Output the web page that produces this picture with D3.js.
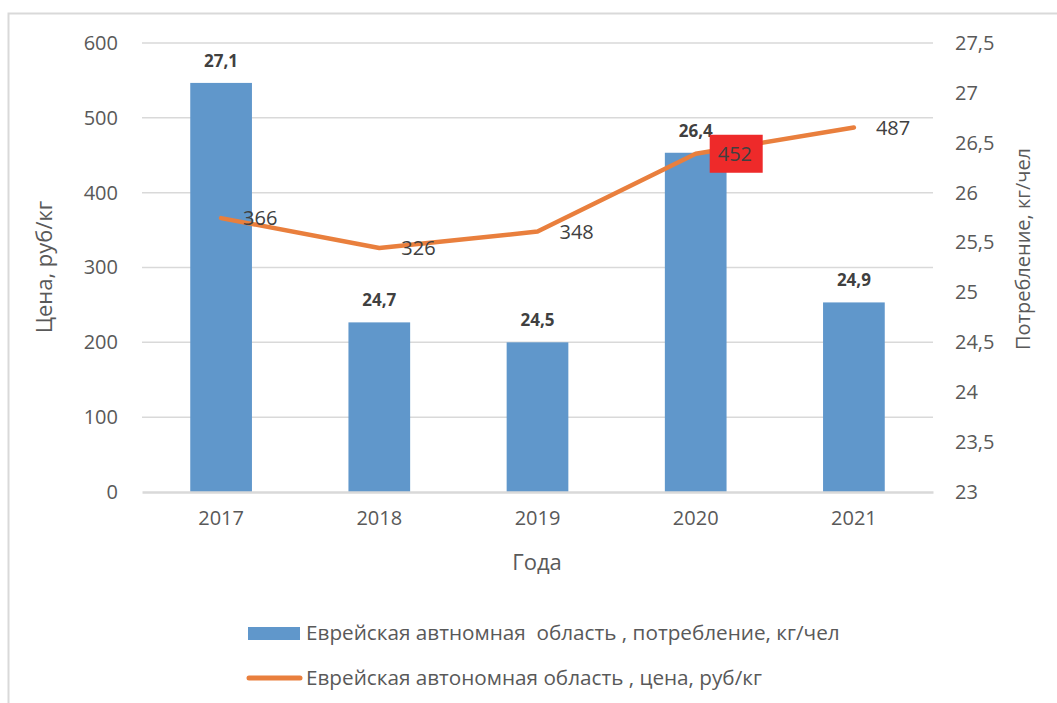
<!DOCTYPE html>
<html>
<head>
<meta charset="utf-8">
<script src="https://cdn.jsdelivr.net/npm/d3@7"></script>
<style>
  body { margin: 0; background: #fff; }
  svg { display: block; }
  svg text { font-family: "Open Sans", "Noto Sans", sans-serif; fill: #595959; }
</style>
</head>
<body>
<svg id="chart"></svg>
<script>
const years = ["2017", "2018", "2019", "2020", "2021"];
const consumption = [27.1, 24.7, 24.5, 26.4, 24.9];
const price = [366, 326, 348, 452, 487];
const priceTicks = [0, 100, 200, 300, 400, 500, 600];
const consTicks = [23, 23.5, 24, 24.5, 25, 25.5, 26, 26.5, 27, 27.5];
const highlightYear = "2020";
const legendNames = ["Еврейская автномная  область , потребление, кг/чел",
                     "Еврейская автономная область , цена, руб/кг"];

const width = 1057;
const height = 703;
const plot = { left: 142, right: 933, top: 43, bottom: 492 };
const barColor = "#6097cb";
const lineColor = "#e97f3d";
const fmt = v => String(v).replace(".", ",");

let svg = d3.select("#chart")
            .attr("width", width)
            .attr("height", height);

//outer frame
svg.append("rect")
   .attr("x", 8.5).attr("y", 13.5)
   .attr("width", width + 10).attr("height", height + 10)
   .attr("fill", "none")
   .attr("stroke", "#d9d9d9")
   .attr("stroke-width", 2);

//scales
let xScale = d3.scaleBand()
               .domain(years)
               .range([plot.left, plot.right])
               .paddingInner(0.61)
               .paddingOuter(0.305);

let yLeft = d3.scaleLinear()
              .domain([0, 600])
              .range([plot.bottom, plot.top]);

let yRight = d3.scaleLinear()
               .domain([23, 27.5])
               .range([plot.bottom, plot.top]);

let cx = d => xScale(d) + xScale.bandwidth() / 2;

//gridlines
svg.append("g")
   .selectAll("line")
   .data(priceTicks.slice(1))
   .enter()
   .append("line")
     .attr("x1", plot.left).attr("x2", plot.right)
     .attr("y1", d => yLeft(d)).attr("y2", d => yLeft(d))
     .attr("stroke", "#d9d9d9")
     .attr("stroke-width", 1.5);

//left axis
let leftAxis = svg.append("g")
   .attr("transform", `translate(${plot.left},0)`)
   .call(d3.axisLeft(yLeft).tickValues(priceTicks).tickSize(0).tickPadding(24));
leftAxis.select(".domain").remove();
leftAxis.attr("font-family", null).attr("font-size", 20);

//right axis
let rightAxis = svg.append("g")
   .attr("transform", `translate(${plot.right},0)`)
   .call(d3.axisRight(yRight).tickValues(consTicks).tickSize(0).tickPadding(22).tickFormat(fmt));
rightAxis.select(".domain").remove();
rightAxis.attr("font-family", null).attr("font-size", 20);

//bars
svg.append("g")
   .selectAll("rect")
   .data(years)
   .enter()
   .append("rect")
     .attr("x", d => xScale(d))
     .attr("y", (d, i) => yRight(consumption[i]))
     .attr("width", xScale.bandwidth())
     .attr("height", (d, i) => plot.bottom - yRight(consumption[i]))
     .attr("fill", barColor);

//x axis
let bottomAxis = svg.append("g")
   .attr("transform", `translate(0,${plot.bottom})`)
   .call(d3.axisBottom(xScale).tickSize(0).tickPadding(19));
bottomAxis.select(".domain").attr("stroke", "#d9d9d9").attr("stroke-width", 2.5);
bottomAxis.attr("font-family", null).attr("font-size", 20);

//bar labels
svg.append("g")
   .selectAll("text")
   .data(years)
   .enter()
   .append("text")
     .attr("x", d => cx(d))
     .attr("y", (d, i) => yRight(consumption[i]) - 16)
     .attr("text-anchor", "middle")
     .attr("font-size", 17)
     .attr("font-weight", "bold")
     .style("fill", "#404040")
     .text((d, i) => fmt(consumption[i]));

//price line
let line = d3.line()
             .x((d, i) => cx(years[i]))
             .y(d => yLeft(d));

svg.append("path")
   .datum(price)
   .attr("d", line)
   .attr("fill", "none")
   .attr("stroke", lineColor)
   .attr("stroke-width", 4.5)
   .attr("stroke-linecap", "round")
   .attr("stroke-linejoin", "round");

//line labels
let lbl = svg.append("g")
             .selectAll("g")
             .data(years)
             .enter()
             .append("g")
               .attr("transform", (d, i) => `translate(${cx(d) + 22},${yLeft(price[i])})`);

lbl.filter(d => d === highlightYear)
   .append("rect")
     .attr("x", -8).attr("y", -19)
     .attr("width", 53).attr("height", 38)
     .attr("fill", "#ee2a2a");

lbl.append("text")
   .attr("dy", "0.35em")
   .attr("font-size", 20)
   .style("fill", "#404040")
   .text((d, i) => price[i]);

//axis titles
svg.append("text")
   .attr("transform", "translate(52,267) rotate(-90)")
   .attr("text-anchor", "middle")
   .attr("font-size", 22)
   .text("Цена, руб/кг");

svg.append("text")
   .attr("transform", "translate(1030,249) rotate(-90)")
   .attr("text-anchor", "middle")
   .attr("font-size", 20)
   .text("Потребление, кг/чел");

svg.append("text")
   .attr("x", 537).attr("y", 570)
   .attr("text-anchor", "middle")
   .attr("font-size", 22)
   .text("Года");

//legend
let legend = svg.append("g");

legend.append("rect")
      .attr("x", 248).attr("y", 627)
      .attr("width", 52).attr("height", 13)
      .attr("fill", barColor);

legend.append("line")
      .attr("x1", 249).attr("x2", 300)
      .attr("y1", 678).attr("y2", 678)
      .attr("stroke", lineColor)
      .attr("stroke-width", 5)
      .attr("stroke-linecap", "round");

//legend text, shrunk to the width the original font takes
const legendWidths = [534, 456];
legend.selectAll(".lt")
      .data(legendNames)
      .enter()
      .append("text")
        .attr("class", "lt")
        .attr("x", 306)
        .attr("y", (d, i) => i === 0 ? 633 : 678)
        .attr("dy", "0.35em")
        .attr("font-size", 21)
        .attr("xml:space", "preserve")
        .style("white-space", "pre")
        .text(d => d)
        .each(function(d, i) {
          let w = this.getComputedTextLength();
          if (w > legendWidths[i]) d3.select(this).attr("font-size", 21 * legendWidths[i] / w);
        });
</script>
</body>
</html>
